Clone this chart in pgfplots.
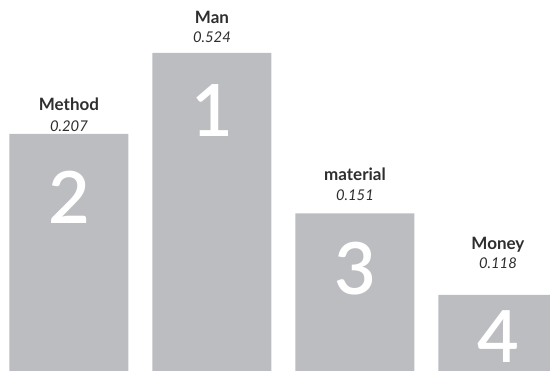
\documentclass[border=0pt]{standalone}
\usepackage{pgfplots}
\usepackage{pgfplotstable}
\pgfplotsset{compat=1.18}
\usepackage{fontspec}
\setmainfont{Lato}
\newfontfamily\digfont{Lato Semibold}
\definecolor{barc}{HTML}{BCBDC1}
\definecolor{txt}{HTML}{2E2E2E}
\pgfplotstableread{
x top lab laby val valy dig digy
0 237 Method 260.3 0.207 239.7 2 173.5
1 318 Man 347.7 0.524 328.3 1 260.5
2 157.7 material 190 0.151 170.3 3 102.5
3 76 Money 121 0.118 102.7 4 34
}\data
\begin{document}
\begin{tikzpicture}
\begin{axis}[
  scale only axis, width=550pt, height=371pt,
  hide axis,
  xmin=-0.4825, xmax=3.364, ymin=0, ymax=371,
  clip=true,
]
\addplot[ybar, bar width=119pt, fill=barc, draw=none] table[x=x, y=top] {\data};
\addplot[draw=none, mark=none, point meta=explicit symbolic,
  nodes near coords={\fontsize{14.8}{15}\selectfont\itshape\pgfplotspointmeta},
  every node near coord/.append style={anchor=base, inner sep=0pt, text=txt}]
  table[x=x, y=valy, meta=val] {\data};
\addplot[draw=none, mark=none, point meta=explicit symbolic,
  nodes near coords={\fontsize{17}{18}\selectfont\bfseries\pgfplotspointmeta},
  every node near coord/.append style={anchor=base, inner sep=0pt, text=txt}]
  table[x=x, y=laby, meta=lab] {\data};
\addplot[draw=none, mark=none, point meta=explicit symbolic,
  nodes near coords={\fontsize{72}{72}\selectfont\digfont\pgfplotspointmeta},
  every node near coord/.append style={anchor=center, inner sep=0pt, text=white}]
  table[x=x, y=digy, meta=dig] {\data};
\end{axis}
\path (current axis.south west) rectangle (current axis.north east);
\end{tikzpicture}
\end{document}
